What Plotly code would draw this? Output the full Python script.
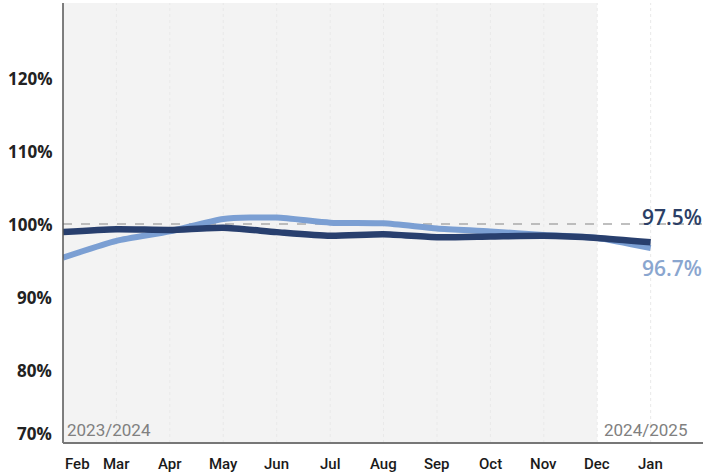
import plotly.graph_objects as go

# Monthly share of reference level (%), Feb through Jan
months = ["Feb", "Mar", "Apr", "May", "Jun", "Jul", "Aug", "Sep", "Oct", "Nov", "Dec", "Jan"]
series_2024_25 = [98.9, 99.3, 99.2, 99.5, 98.9, 98.4, 98.6, 98.2, 98.3, 98.4, 98.1, 97.5]
series_2023_24 = [95.4, 97.7, 99.0, 100.7, 100.9, 100.2, 100.1, 99.4, 99.0, 98.5, 98.1, 96.7]
y_ticks = [70, 80, 90, 100, 110, 120]
period_labels = ["2023/2024", "2024/2025"]

DARK = "#283f6e"
LIGHT = "#7b9fd3"
x = list(range(len(months)))

fig = go.Figure()

fig.add_trace(go.Scatter(
    x=x, y=series_2023_24, mode="lines",
    line=dict(color=LIGHT, width=6, shape="spline", smoothing=0.6),
    hoverinfo="skip", showlegend=False,
))
fig.add_trace(go.Scatter(
    x=x, y=series_2024_25, mode="lines",
    line=dict(color=DARK, width=6.5, shape="spline", smoothing=0.6),
    hoverinfo="skip", showlegend=False,
))

shapes = []
# shaded past-period band up to Dec
shapes.append(dict(type="rect", xref="x", yref="paper", x0=0, x1=10, y0=0, y1=1,
                   fillcolor="#f3f3f3", line=dict(width=0), layer="below"))
# faint dotted month guides
for i in x[1:]:
    shapes.append(dict(type="line", xref="x", yref="paper", x0=i, x1=i, y0=0, y1=1,
                       line=dict(color="#e9e9e9", width=1, dash="dot"), layer="below"))
# 100% reference
shapes.append(dict(type="line", xref="paper", yref="y", x0=0, x1=1, y0=100, y1=100,
                   line=dict(color="#aaaaaa", width=1.5, dash="dash"), layer="below"))
# axis lines
shapes.append(dict(type="line", xref="paper", yref="paper", x0=0, x1=0, y0=0, y1=1,
                   line=dict(color="#555555", width=1.5)))
shapes.append(dict(type="line", xref="paper", yref="paper", x0=0, x1=1, y0=0, y1=0,
                   line=dict(color="#777777", width=2)))

annotations = []
for v in y_ticks:
    annotations.append(dict(
        x=0, xref="paper", y=v, yref="y", text=f"{v}%", showarrow=False,
        xanchor="right", yanchor="bottom" if v == 70 else "middle",
        xshift=-9, yshift=-4 if v == 70 else 0,
        font=dict(family="Open Sans", size=17, color="#222222", weight="bold"),
    ))
for i, m in enumerate(months):
    annotations.append(dict(
        x=i, xref="x", y=0, yref="paper", text=m, showarrow=False,
        xanchor="center", yanchor="middle", yshift=-21, xshift=14 if i == 0 else 0,
        font=dict(family="Roboto", size=15, color="#1a1a1a", weight=500),
    ))
annotations.append(dict(
    x=0, xref="paper", y=70, yref="y", text=period_labels[0], showarrow=False,
    xanchor="left", yanchor="bottom", xshift=2, yshift=1,
    font=dict(family="Roboto", size=17, color="#808080"),
))
annotations.append(dict(
    x=1, xref="paper", y=70, yref="y", text=period_labels[1], showarrow=False,
    xanchor="right", yanchor="bottom", xshift=-14, yshift=1,
    font=dict(family="Roboto", size=17, color="#808080"),
))
annotations.append(dict(
    x=1, xref="paper", y=series_2024_25[-1], yref="y", text=f"{series_2024_25[-1]}%",
    showarrow=False, xanchor="right", yanchor="middle", yshift=25, xshift=1,
    font=dict(family="Open Sans", size=21, color="#2c3f66", weight=600),
))
annotations.append(dict(
    x=1, xref="paper", y=series_2023_24[-1], yref="y", text=f"{series_2023_24[-1]}%",
    showarrow=False, xanchor="right", yanchor="middle", yshift=-20, xshift=1,
    font=dict(family="Open Sans", size=21, color="#8aa6cf", weight=600),
))

fig.update_layout(
    width=703, height=476,
    margin=dict(l=63, r=0, t=3, b=33),
    paper_bgcolor="white", plot_bgcolor="white",
    xaxis=dict(range=[0, 11.98], showgrid=False, zeroline=False, showticklabels=False,
               showline=False, fixedrange=True),
    yaxis=dict(range=[70, 130.3], showgrid=False, zeroline=False, showticklabels=False,
               showline=False, fixedrange=True),
    shapes=shapes, annotations=annotations,
)

fig.write_html("out.html")
